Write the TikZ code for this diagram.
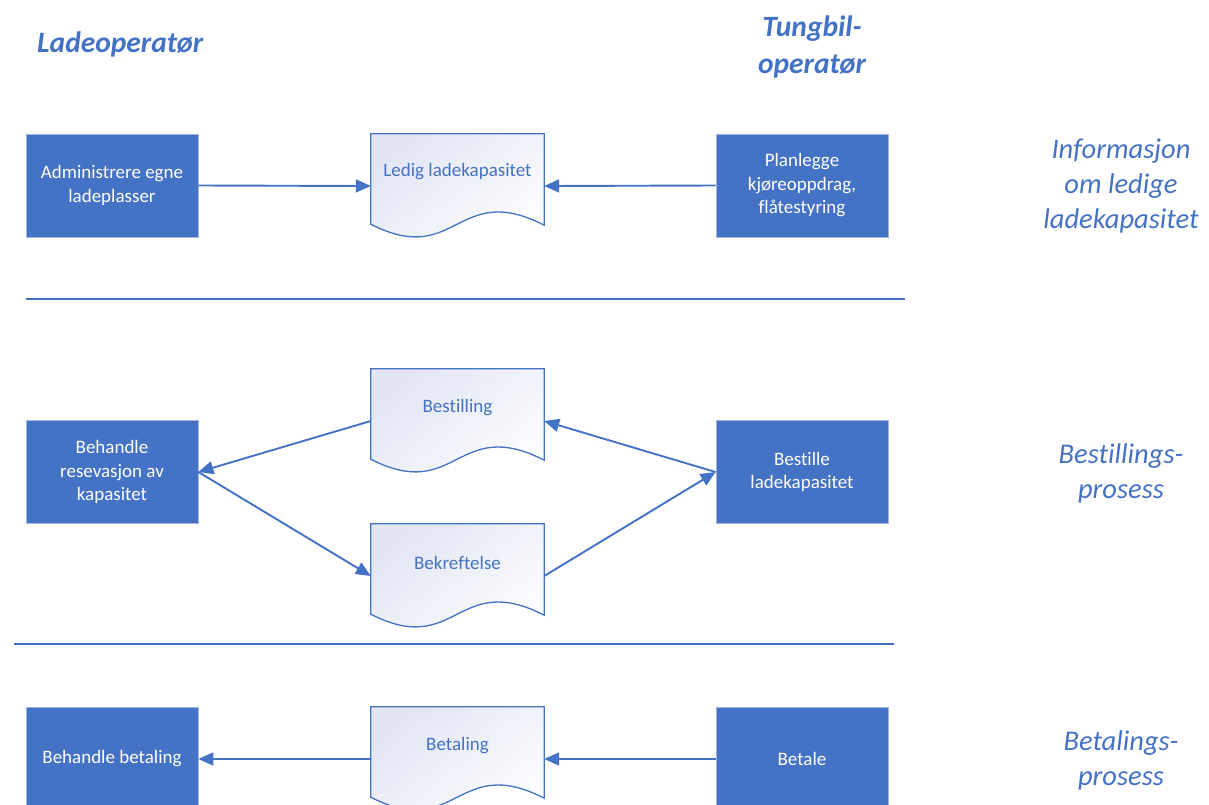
\documentclass[tikz,border=0pt]{standalone}
\usepackage{fontspec}
\setmainfont{Carlito}[Ligatures={NoCommon}]
\usetikzlibrary{arrows.meta,calc}
\definecolor{vblue}{HTML}{4472C4}
\definecolor{vborder}{HTML}{A3B5DC}
\definecolor{lav}{HTML}{E2E6F4}
\newcommand{\docoutline}[1]{%
  \draw[docline] (#1.north west) -- (#1.north east) -- ($(#1.south east)+(0,-13)$)
    .. controls ($(#1.south west)+(86,-58)$) and ($(#1.south west)+(86,30)$) ..
    ($(#1.south west)+(0,-14)$) -- cycle;}
\begin{document}
\begin{tikzpicture}[x=1pt,y=-1pt,
  procbox/.style={rectangle, fill=vblue, draw=vborder, line width=0.8pt,
    minimum width=172pt, minimum height=103pt, text=white, align=center,
    font=\fontsize{19}{23.5}\selectfont, inner sep=0pt},
  docnode/.style={rectangle, minimum width=173pt, minimum height=104pt, inner sep=0pt},
  docline/.style={draw=vblue, line width=1.3pt, line join=miter,
    top color=lav, bottom color=white, shading angle=40},
  doctext/.style={text=vblue, font=\fontsize{19}{23.5}\selectfont, inner sep=0pt},
  conn/.style={draw=vblue, line width=1.9pt, -{Triangle[length=15pt,width=13pt]}},
  sepline/.style={draw=vblue, line width=1.4pt},
  header/.style={text=vblue, font=\fontsize{29.5}{37}\selectfont\bfseries\itshape, align=center, inner sep=0pt},
  phase/.style={text=vblue, font=\fontsize{28.5}{35}\selectfont\itshape, align=center, inner sep=0pt}
]
\useasboundingbox (0,0) rectangle (1209,804);
\clip (0,0) rectangle (1209,804);

% headers
\node[header, anchor=west] (hlade) at (37,44) {Ladeoperatør};
\node[header] (htung) at (812,47) {Tungbil-\\operatør};

% phase labels
\node[phase] (p1) at (1121,186) {Informasjon\\om ledige\\ladekapasitet};
\node[phase] (p2) at (1121,473) {Bestillings-\\prosess};
\node[phase] (p3) at (1121,760) {Betalings-\\prosess};

% row 1
\node[procbox] (admin) at (112,185.5) {Administrere egne\\ladeplasser};
\node[procbox] (plan) at (802,185.5) {Planlegge\\kjøreoppdrag,\\flåtestyring};
\node[docnode] (ledig) at (457.5,186) {};
\docoutline{ledig}
\node[doctext] (ledigt) at ($(ledig.north)+(0,38)$) {Ledig ladekapasitet};

\draw[conn] (admin.east) -- (ledig.west);
\draw[conn] (plan.west) -- (ledig.east);

\draw[sepline] (26,299) -- (905,299);

% row 2
\node[procbox] (behres) at (112,472) {Behandle\\resevasjon av\\kapasitet};
\node[procbox] (bestille) at (802,472) {Bestille\\ladekapasitet};
\node[docnode] (bestilling) at (457.5,421) {};
\docoutline{bestilling}
\node[doctext] (bestillingt) at ($(bestilling.north)+(0,39)$) {Bestilling};
\node[docnode] (bekreft) at (457.5,576) {};
\docoutline{bekreft}
\node[doctext] (bekreftt) at ($(bekreft.north)+(0,39)$) {Bekreftelse};

\draw[conn] (bestilling.west) -- (behres.east);
\draw[conn] (behres.east) -- (bekreft.west);
\draw[conn] (bekreft.east) -- (bestille.west);
\draw[conn] (bestille.west) -- (bestilling.east);

\draw[sepline] (14,644) -- (894,644);

% row 3
\node[procbox] (behbet) at (112,759) {Behandle betaling};
\node[procbox] (betale) at (802,759) {Betale};
\node[docnode] (betaling) at (457.5,759) {};
\docoutline{betaling}
\node[doctext] (betalingt) at ($(betaling.north)+(0,39)$) {Betaling};

\draw[conn] (betaling.west) -- (behbet.east);
\draw[conn] (betale.west) -- (betaling.east);
\end{tikzpicture}
\end{document}
